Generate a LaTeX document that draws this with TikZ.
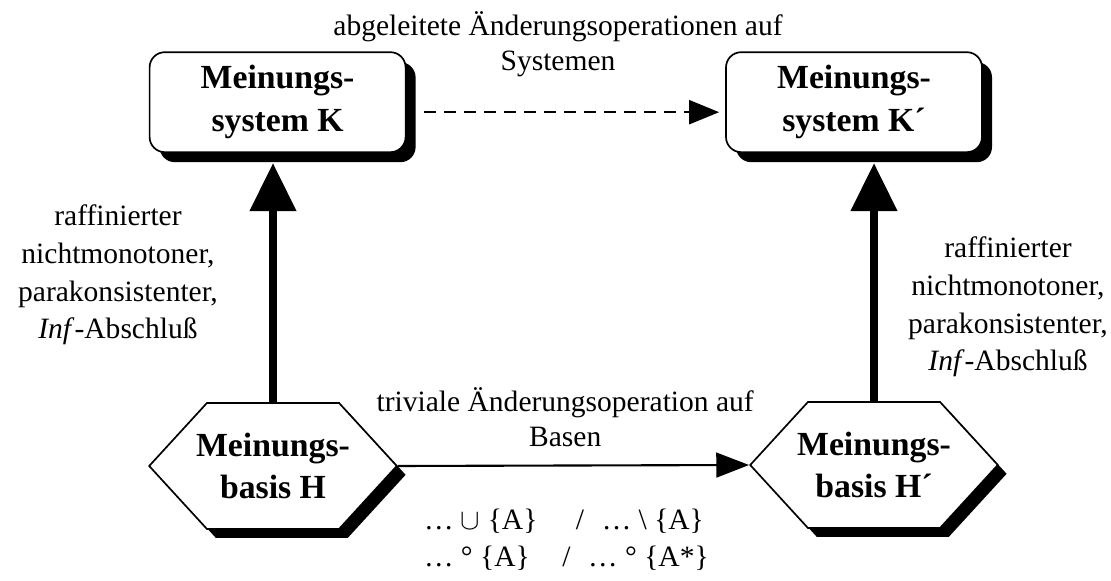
\documentclass[tikz,border=0pt]{standalone}
\usepackage{fontspec}
\setmainfont{Liberation Serif}
\usetikzlibrary{arrows.meta,shapes.symbols,shadows}

\begin{document}
\begin{tikzpicture}[
  sysbox/.style={draw, line width=1.2pt, rounded corners=0.38cm, fill=white,
                 minimum width=6.4cm, minimum height=2.5cm, align=center,
                 font=\fontsize{24}{30.5}\selectfont\bfseries,
                 drop shadow={shadow xshift=0.25cm, shadow yshift=-0.25cm, fill=black, opacity=1}},
  basbox/.style={draw, line width=1.2pt, signal, signal to=east and west, signal pointer angle=95,
                 fill=white, inner xsep=-0.27cm, minimum height=3.15cm, align=center,
                 font=\fontsize{24}{30.5}\selectfont\bfseries,
                 drop shadow={shadow xshift=0.22cm, shadow yshift=-0.22cm, fill=black, opacity=1}},
  lbl/.style={font=\fontsize{21}{26.7}\selectfont, align=center},
  thickarr/.style={-{Triangle[width=1.12cm,length=1.2cm]}, line width=5.7pt},
  thinarr/.style={-{Triangle[width=0.62cm,length=0.82cm]}, line width=1.5pt},
  dasharr/.style={-{Triangle[width=0.6cm,length=0.75cm]}, line width=1.5pt,
                  dash pattern=on 0.3cm off 0.2cm},
]
\useasboundingbox (0,0) rectangle (27.775,14.525);

% --- Meinungssysteme ---
\node[sysbox] (sysK) at (6.94,11.97) {Meinungs-\\system K};
\node[sysbox] (sysKp) at (21.35,11.97) {Meinungs-\\system K´};
\node[lbl, font=\fontsize{21}{25}\selectfont] (sysLbl) at (13.95,13.41) {abgeleitete Änderungsoperationen auf\\Systemen};
\draw[dasharr] ([xshift=0.45cm,yshift=-0.25cm]sysK.east) -- ([xshift=-0.15cm,yshift=-0.25cm]sysKp.west);

% --- Meinungsbasen ---
\node[basbox] (basH) at (6.825,2.875) {Meinungs-\\basis H};
\node[basbox] (basHp) at (21.85,2.9) {Meinungs-\\basis H´};
\node[lbl, font=\fontsize{21}{25}\selectfont] (basLbl) at (14.13,4.1) {triviale Änderungsoperation auf\\Basen};
\node[lbl, align=left] (opsLbl) at (14.16,1.03)
  {… $\cup$ \{A\}\hspace{1.3em}/\hspace{0.6em}… \textbackslash\ \{A\}\\
   … ° \{A\}\hspace{1.1em}/\hspace{0.6em}… ° \{A*\}};
\draw[thinarr] (basH.east) -- (basHp.west);

% --- Abschluss ---
\draw[thickarr, shorten >=0.25cm] (basH.north) -- (basH.north |- sysK.south);
\draw[thickarr, shorten >=0.25cm] (basHp.north) -- (basHp.north |- sysKp.south);
\node[lbl] (lLbl) at (2.95,7.65) {raffinierter\\nichtmonotoner,\\parakonsistenter,\\\textit{Inf}-Abschluß};
\node[lbl] (rLbl) at (25.2,6.85) {raffinierter\\nichtmonotoner,\\parakonsistenter,\\\textit{Inf}-Abschluß};
\end{tikzpicture}
\end{document}
